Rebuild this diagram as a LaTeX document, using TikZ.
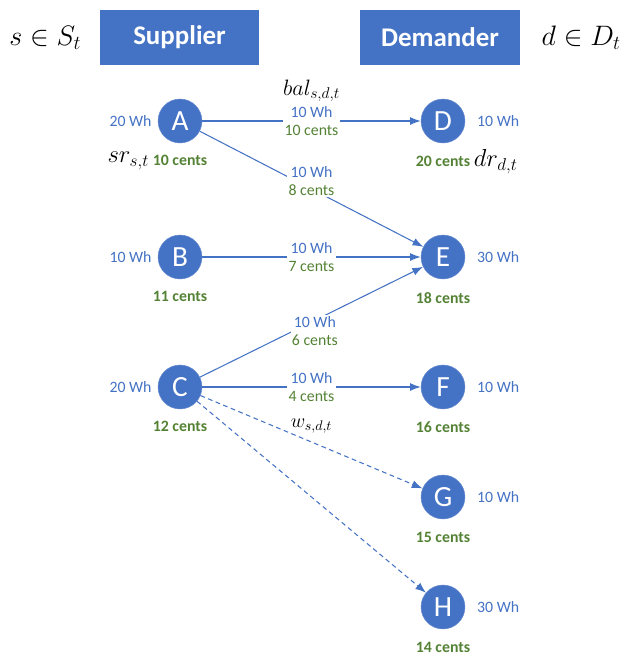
\RequirePackage{fix-cm}
\documentclass[tikz,border=0pt]{standalone}
\usepackage{fontspec}
\newfontfamily\calibri{Carlito}
\usetikzlibrary{arrows.meta,positioning}
\definecolor{azul}{HTML}{4472C4}
\definecolor{verde}{HTML}{548235}
\tikzset{
  cabeca/.style={rectangle, fill=azul, text=white, minimum width=4.77cm, minimum height=1.65cm,
    inner sep=0pt, font=\calibri\bfseries\fontsize{23}{27}\selectfont},
  agente/.style={circle, fill=azul, draw=azul!80!white, text=white, minimum size=1.32cm,
    inner sep=0pt, font=\calibri\fontsize{25}{30}\selectfont},
  energia/.style={text=azul, inner sep=0pt, font=\calibri\fontsize{13.5}{15}\selectfont},
  preco/.style={text=verde, inner sep=0pt, font=\calibri\bfseries\fontsize{13.5}{15}\selectfont},
  rotulo/.style={fill=white, align=center, inner sep=1pt, font=\calibri\fontsize{13.5}{15.5}\selectfont},
  simbolo/.style={inner sep=0pt, font=\fontsize{17}{20}\selectfont},
  fluxo/.style={draw=azul, line width=0.9pt, -{Latex[length=0.32cm, width=0.24cm]}},
  incerto/.style={fluxo, dash pattern=on 4pt off 3pt},
}
\newcommand{\troca}[2]{{\color{azul}#1 Wh}\\{\color{verde}#2 cents}}

\begin{document}
\begin{tikzpicture}[x=0.03cm, y=-0.03cm]
  \useasboundingbox (0,0) rectangle (622,662);

  % ---------------- cabecalho ----------------
  \node[cabeca] (sup) at (179.5,37.5) {Supplier};
  \node[cabeca] (dem) at (440,37.5) {Demander};
  \node[simbolo, font=\fontsize{24}{28}\selectfont, left=0.55cm of sup] {$s \in S_t$};
  \node[simbolo, font=\fontsize{24}{28}\selectfont, right=0.65cm of dem] {$d \in D_t$};

  % ---------------- fornecedores ----------------
  \foreach \n/\y/\e/\p in {A/121/20/10, B/257/10/11, C/387/20/12} {
    \node[agente] (\n) at (180,\y) {\n};
    \node[energia, left=0.18cm of \n] (\n e) {\e\ Wh};
    \node[preco, below=0.36cm of \n] (\n p) {\p\ cents};
  }

  % ---------------- demandantes ----------------
  \foreach \n/\y/\e/\p in {D/121/10/20, E/257/30/18, F/387/10/16, G/497/10/15, H/607/30/14} {
    \node[agente] (\n) at (443,\y) {\n};
    \node[energia, right=0.35cm of \n] (\n e) {\e\ Wh};
    \node[preco, below=0.38cm of \n] (\n p) {\p\ cents};
  }

  \node[simbolo, font=\fontsize{21}{25}\selectfont, left=0.1cm of Ap] {$sr_{s,t}$};
  \node[simbolo, font=\fontsize{21}{25}\selectfont, right=0.1cm of Dp] {$dr_{d,t}$};

  % ---------------- trocas ----------------
  \draw[fluxo] (A) -- node[rotulo] (AD) {\troca{10}{10}} (D);
  \draw[fluxo] (A) -- node[rotulo, yshift=0.24cm] (AE) {\troca{10}{8}} (E);
  \draw[fluxo] (B) -- node[rotulo] (BE) {\troca{10}{7}} (E);
  \draw[fluxo] (C) -- node[rotulo, xshift=0.1cm, yshift=-0.27cm] (CE) {\troca{10}{6}} (E);
  \draw[fluxo] (C) -- node[rotulo] (CF) {\troca{10}{4}} (F);
  \draw[incerto] (C) -- (G);
  \draw[incerto] (C) -- (H);

  \node[simbolo, font=\fontsize{19}{22}\selectfont, above=0.08cm of AD] {$bal_{s,d,t}$};
  \node[simbolo, below=0.45cm of CF] {$w_{s,d,t}$};
\end{tikzpicture}
\end{document}
